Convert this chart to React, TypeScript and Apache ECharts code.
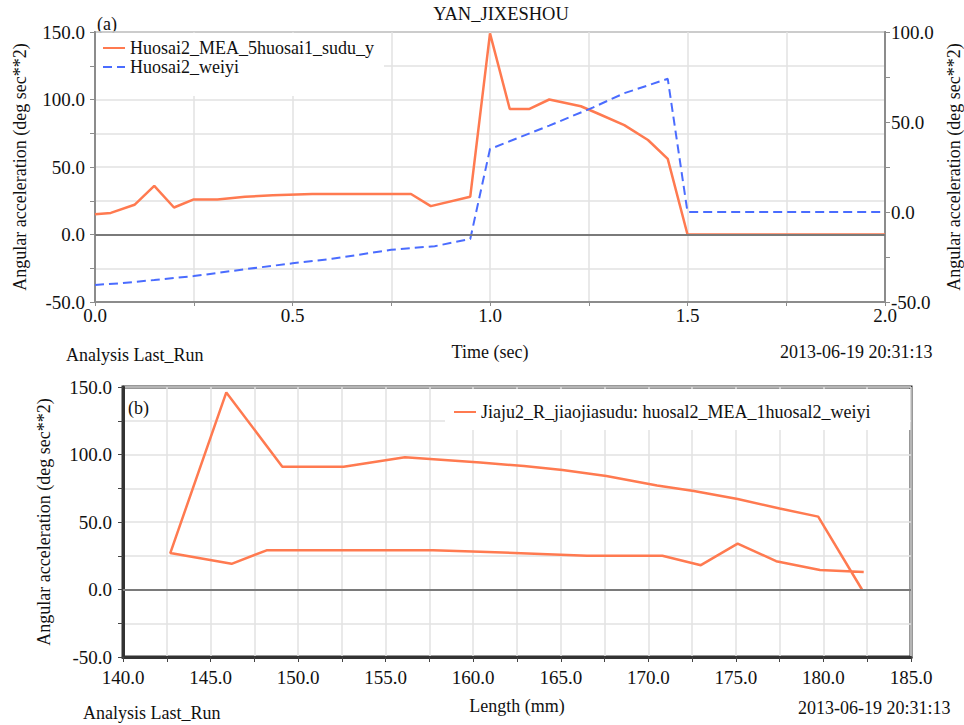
import React, { useEffect, useRef } from "react";
import * as echarts from "echarts";

// ---- Chart (a): time history ----
const suduTime = [0, 0.04, 0.1, 0.15, 0.2, 0.25, 0.31, 0.38, 0.45, 0.55, 0.8, 0.85, 0.95, 1.0, 1.05, 1.1, 1.15, 1.23, 1.27, 1.34, 1.4, 1.45, 1.5, 2.0];
const suduValues = [15, 16, 22, 36, 20, 26, 26, 28, 29, 30, 30, 21, 28, 149, 93, 93, 100, 95, 90, 81, 70, 56, 0, 0];

const weiyiTime = [0, 0.07, 0.15, 0.25, 0.38, 0.5, 0.6, 0.75, 0.86, 0.95, 1.0, 1.15, 1.26, 1.34, 1.45, 1.5, 2.0];
const weiyiValues = [-40.5, -39.5, -37.8, -35.6, -31.8, -28.5, -26, -21, -19, -15, 35, 48, 58, 66, 74, 0, 0];

// ---- Chart (b): acceleration vs length ----
const lengthMm = [182.3, 179.8, 177.3, 175.1, 173.0, 170.8, 166.5, 160.4, 157.7, 148.2, 146.2, 142.7, 145.9, 149.1, 152.6, 156.1, 160.4, 162.9, 165.1, 167.6, 170.5, 172.6, 175.1, 177.5, 179.7, 182.2];
const accelB = [13, 14.5, 21, 34, 18, 25, 25, 28, 29, 29, 19, 27, 146, 91, 91, 98, 94, 91.5, 88.5, 84, 77, 73, 67, 60, 54, 0];

const seriesNames = [
  "Huosai2_MEA_5huosai1_sudu_y",
  "Huosai2_weiyi",
  "Jiaju2_R_jiaojiasudu: huosal2_MEA_1huosal2_weiyi",
];
const titleText = "YAN_JIXESHOU";
const yName = "Angular acceleration (deg sec**2)";
const runText = "Analysis Last_Run";
const dateText = "2013-06-19 20:31:13";

const FONT = "Liberation Serif";
const FS = 18;
const ORANGE = "#ff7a50";
const BLUE = "#4a6cff";
const TXT = "#111";

const fmtEvery = (step: number) => (v: number) =>
  Math.abs(v / step - Math.round(v / step)) < 1e-6 ? v.toFixed(1) : "";

export default function App() {
  const ref = useRef<HTMLDivElement>(null);
  useEffect(() => {
    document.body.style.margin = "0";
    const chart = echarts.init(ref.current!, null, { renderer: "svg" });
    const grayAxis = { show: true, lineStyle: { color: "#8c8c8c", width: 2 } };
    const darkAxis = { show: true, onZero: false, lineStyle: { color: "#333", width: 3 } };
    const split = { show: true, lineStyle: { color: "#e2e2e2", width: 1.5 } };
    const label = (step: number, margin: number) => ({
      formatter: fmtEvery(step),
      color: TXT,
      fontFamily: FONT,
      fontSize: 19,
      margin,
    });
    const nameStyle = { color: TXT, fontFamily: FONT, fontSize: FS };
    const zeroLine = {
      silent: true,
      symbol: ["none", "none"],
      label: { show: false },
      lineStyle: { color: "#7a7a7a", width: 2, type: "solid" },
      data: [{ yAxis: 0 }],
    };
    const text = (t: string, x: number, y: number, size = FS, align = "left") => ({
      type: "text",
      x,
      y,
      style: {
        text: t, fill: TXT, fontFamily: FONT, fontSize: size,
        textAlign: align, textVerticalAlign: "middle",
      },
    });
    const legendCommon = {
      itemWidth: 22,
      itemHeight: 12,
      itemStyle: { opacity: 0 },
      textStyle: { color: TXT, fontFamily: FONT, fontSize: FS },
      backgroundColor: "#fff",
    };

    chart.setOption({
      animation: false,
      backgroundColor: "#fff",
      textStyle: { fontFamily: FONT },
      grid: [
        {
          left: 95, top: 32, width: 790, height: 270, show: true,
          borderColor: "#8c8c8c", borderWidth: 2, outerBoundsMode: "none", containLabel: false,
        },
        {
          left: 123, top: 387, width: 788, height: 270, show: true,
          borderColor: "#333", borderWidth: 3, outerBoundsMode: "none", containLabel: false,
        },
      ],
      xAxis: [
        {
          type: "value", gridIndex: 0, min: 0, max: 2, interval: 0.25,
          axisLine: { ...grayAxis, onZero: false },
          axisTick: { show: true, length: 4, lineStyle: { color: "#8c8c8c" } },
          axisLabel: label(0.5, 4),
          splitLine: split,
          name: "Time (sec)", nameLocation: "middle", nameGap: 41, nameTextStyle: nameStyle,
        },
        {
          type: "value", gridIndex: 1, min: 140, max: 185, interval: 2.5,
          axisLine: darkAxis,
          axisTick: { show: true, length: 5, lineStyle: { color: "#444" } },
          axisLabel: label(5, 11),
          splitLine: split,
          name: "Length (mm)", nameLocation: "middle", nameGap: 40, nameTextStyle: nameStyle,
        },
      ],
      yAxis: [
        {
          type: "value", gridIndex: 0, position: "left", min: -50, max: 150, interval: 25,
          axisLine: grayAxis,
          axisTick: { show: true, length: 5, lineStyle: { color: "#8c8c8c" } },
          axisLabel: label(50, 10),
          splitLine: split,
          name: yName, nameLocation: "middle", nameRotate: 90, nameGap: 66, nameTextStyle: nameStyle,
        },
        {
          type: "value", gridIndex: 0, position: "right", min: -50, max: 100, interval: 25,
          axisLine: grayAxis,
          axisTick: { show: true, length: 5, lineStyle: { color: "#8c8c8c" } },
          axisLabel: label(50, 6),
          splitLine: { show: false },
          name: yName, nameLocation: "middle", nameRotate: 90, nameGap: 57, nameTextStyle: nameStyle,
        },
        {
          type: "value", gridIndex: 1, position: "left", min: -50, max: 150, interval: 25,
          axisLine: darkAxis,
          axisTick: { show: true, length: 5, lineStyle: { color: "#444" } },
          axisLabel: label(50, 11),
          splitLine: split,
          name: yName, nameLocation: "middle", nameRotate: 90, nameGap: 70, nameTextStyle: nameStyle,
        },
      ],
      legend: [
        {
          ...legendCommon,
          data: [seriesNames[0], seriesNames[1]],
          left: 96, top: 33, orient: "vertical",
          padding: [6, 10, 20, 6],
          itemGap: 1,
        },
        {
          ...legendCommon,
          data: [seriesNames[2]],
          left: 445, top: 389,
          padding: [14, 40, 9, 8],
        },
      ],
      series: [
        {
          name: seriesNames[0], type: "line", xAxisIndex: 0, yAxisIndex: 0,
          data: suduTime.map((t, i) => [t, suduValues[i]]),
          symbol: "none", showSymbol: false, color: ORANGE,
          lineStyle: { color: ORANGE, width: 2.5 },
          markLine: zeroLine, z: 3,
        },
        {
          name: seriesNames[1], type: "line", xAxisIndex: 0, yAxisIndex: 1,
          data: weiyiTime.map((t, i) => [t, weiyiValues[i]]),
          symbol: "none", showSymbol: false, color: BLUE,
          lineStyle: { color: BLUE, width: 2, type: [9, 5] },
          z: 3,
        },
        {
          name: seriesNames[2], type: "line", xAxisIndex: 1, yAxisIndex: 2,
          data: lengthMm.map((x, i) => [x, accelB[i]]),
          symbol: "none", showSymbol: false, color: ORANGE,
          lineStyle: { color: ORANGE, width: 2.5 },
          markLine: zeroLine, z: 3,
        },
      ],
      graphic: [
        text(titleText, 501, 14, 18.5, "center"),
        text("(a)", 97, 24),
        text(runText, 66, 355),
        text(dateText, 780, 352),
        text("(b)", 128, 408),
        text(runText, 83, 713),
        text(dateText, 798, 708),
      ],
    });
    return () => chart.dispose();
  }, []);
  return <div ref={ref} style={{ width: 964, height: 725 }} />;
}
